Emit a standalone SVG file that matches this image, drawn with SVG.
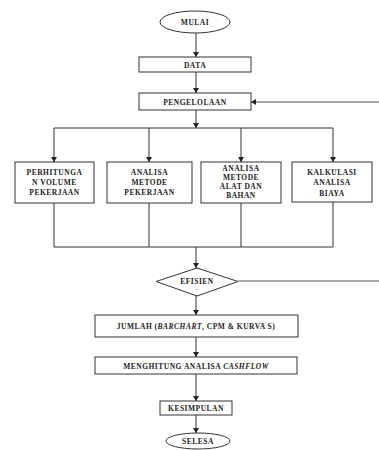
<svg xmlns="http://www.w3.org/2000/svg" width="379" height="450" viewBox="0 0 379 450">
<defs>
<marker id="ah" markerWidth="6" markerHeight="6" refX="5" refY="3" orient="auto" markerUnits="userSpaceOnUse">
<path d="M0,0 L5,3 L0,6 Z" fill="#222"/>
</marker>
<style>
.box{fill:#fff;stroke:#333;stroke-width:1}
.ln{fill:none;stroke:#333;stroke-width:1}
.fb{fill:none;stroke:#555;stroke-width:1}
text{font-family:"Liberation Serif","Times New Roman",serif;font-weight:bold;font-size:7.5px;fill:#222;text-anchor:middle;letter-spacing:0.5px}
</style>
</defs>
<rect width="379" height="450" fill="#fff"/>
<g id="connectors">
<line class="ln" x1="196" y1="33" x2="196" y2="57" marker-end="url(#ah)"/>
<line class="ln" x1="196" y1="72" x2="196" y2="93" marker-end="url(#ah)"/>
<line class="fb" x1="379" y1="102" x2="251" y2="102" marker-end="url(#ah)"/>
<line class="ln" x1="196" y1="110" x2="196" y2="128" marker-end="url(#ah)"/>
<line class="ln" x1="54" y1="128" x2="333" y2="128"/>
<line class="ln" x1="54" y1="128" x2="54" y2="162" marker-end="url(#ah)"/>
<line class="ln" x1="149" y1="128" x2="149" y2="162" marker-end="url(#ah)"/>
<line class="ln" x1="241" y1="128" x2="241" y2="162" marker-end="url(#ah)"/>
<line class="ln" x1="333" y1="128" x2="333" y2="162" marker-end="url(#ah)"/>
<polyline class="ln" points="54,203 54,247 333,247 333,202"/>
<line class="ln" x1="149" y1="203" x2="149" y2="247"/>
<line class="ln" x1="241" y1="203" x2="241" y2="247"/>
<line class="ln" x1="196" y1="247" x2="196" y2="268" marker-end="url(#ah)"/>
<line class="fb" x1="238" y1="281" x2="379" y2="281"/>
<line class="ln" x1="196" y1="296" x2="196" y2="315" marker-end="url(#ah)"/>
<line class="ln" x1="196" y1="337" x2="196" y2="357" marker-end="url(#ah)"/>
<line class="ln" x1="196" y1="374" x2="196" y2="401" marker-end="url(#ah)"/>
<line class="ln" x1="196" y1="415" x2="196" y2="433" marker-end="url(#ah)"/>
</g>
<g id="mulai">
<ellipse class="box" cx="195" cy="22" rx="35" ry="11"/>
<text x="195" y="25">MULAI</text>
</g>
<g id="data">
<rect class="box" x="139" y="57" width="112" height="15"/>
<text x="195" y="67.5">DATA</text>
</g>
<g id="pengelolaan">
<rect class="box" x="139" y="93" width="112" height="17"/>
<text x="195" y="104.5">PENGELOLAAN</text>
</g>
<g id="perhitungan">
<rect class="box" x="15" y="162" width="79" height="41"/>
<text x="54.5" y="175">PERHITUNGA</text>
<text x="54.5" y="185">N VOLUME</text>
<text x="54.5" y="195">PEKERJAAN</text>
</g>
<g id="analisa-metode">
<rect class="box" x="107" y="162" width="85" height="41"/>
<text x="149.5" y="175">ANALISA</text>
<text x="149.5" y="185">METODE</text>
<text x="149.5" y="195">PEKERJAAN</text>
</g>
<g id="analisa-alat">
<rect class="box" x="201" y="162" width="80" height="41"/>
<text x="241" y="171">ANALISA</text>
<text x="241" y="180">METODE</text>
<text x="241" y="189">ALAT DAN</text>
<text x="241" y="198">BAHAN</text>
</g>
<g id="kalkulasi">
<rect class="box" x="292" y="162" width="80" height="40"/>
<text x="332" y="175">KALKULASI</text>
<text x="332" y="185">ANALISA</text>
<text x="332" y="196">BIAYA</text>
</g>
<g id="efisien">
<polygon class="box" points="197,268 238,281.5 197,296 156,281.5"/>
<text x="197" y="284">EFISIEN</text>
<text x="197" y="290" style="font-size:4px">..</text>
</g>
<g id="jumlah">
<rect class="box" x="95" y="315" width="203" height="22"/>
<text x="196" y="329">JUMLAH (<tspan font-style="italic">BARCHART</tspan>, CPM &amp; KURVA S)</text>
</g>
<g id="cashflow">
<rect class="box" x="95" y="357" width="202" height="17"/>
<text x="196" y="368.5">MENGHITUNG ANALISA <tspan font-style="italic">CASHFLOW</tspan></text>
</g>
<g id="kesimpulan">
<rect class="box" x="160" y="401" width="72" height="14"/>
<text x="196" y="411">KESIMPULAN</text>
</g>
<g id="selesa">
<ellipse class="box" cx="198" cy="441" rx="32" ry="8"/>
<text x="198" y="443.5">SELESA</text>
</g>
</svg>
